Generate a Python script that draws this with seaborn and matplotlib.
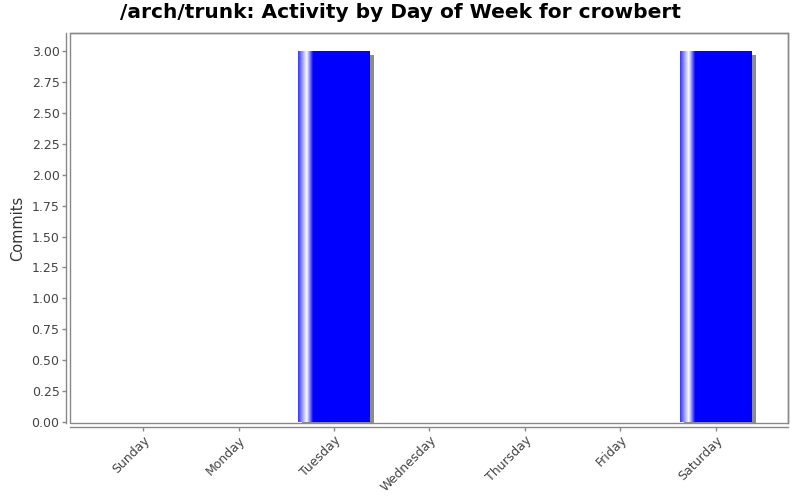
import matplotlib
matplotlib.use("Agg")
import matplotlib.pyplot as plt
import matplotlib.transforms as mtransforms
from matplotlib.patches import Rectangle
import numpy as np
import pandas as pd
import seaborn as sns

days = ["Sunday", "Monday", "Tuesday", "Wednesday", "Thursday", "Friday", "Saturday"]
commits = [0, 0, 3, 0, 0, 0, 3]
yticks = [0.00, 0.25, 0.50, 0.75, 1.00, 1.25, 1.50, 1.75, 2.00, 2.25, 2.50, 2.75, 3.00]
title = "/arch/trunk: Activity by Day of Week for crowbert"

sns.set_theme(style="white")
plt.rcParams["font.family"] = ["DejaVu Sans"]

df = pd.DataFrame({"day": days, "commits": commits})

fig = plt.figure(figsize=(8, 5), dpi=100)
ax = fig.add_axes([70 / 800, 1 - 423 / 500, 718 / 800, 390 / 500])

sns.barplot(data=df, x="day", y="commits", order=days, color="#0000ff",
            width=0.75, saturation=1, ax=ax, zorder=3, linewidth=0, edgecolor="none")

# gradient + shadow for each bar
base = np.array([0.0, 0.0, 1.0])
white = np.array([1.0, 1.0, 1.0])
n = 300
t = np.linspace(0, 1, n)
cols = np.zeros((n, 3))
for i, v in enumerate(t):
    if v < 0.12:
        f = 0.2 + 0.8 * (v / 0.12)
    elif v < 0.21:
        f = 1.0 - (v - 0.12) / 0.09
    else:
        f = 0.0
    cols[i] = base + (white - base) * f
grad = cols[np.newaxis, :, :]

shadow_tr = mtransforms.offset_copy(ax.transData, fig=fig, x=4, y=-4, units="dots")
for p in list(ax.patches):
    h = p.get_height()
    if h <= 0:
        continue
    x0, w = p.get_x(), p.get_width()
    sh = Rectangle((x0, 0.0), w, h, transform=shadow_tr, facecolor="#8c8c8c",
                   edgecolor="none", zorder=2, clip_on=True)
    ax.add_patch(sh)
    im = ax.imshow(grad, extent=[x0, x0 + w, 0, h], aspect="auto", zorder=4,
                   interpolation="bilinear")
    im.set_clip_path(p)

ax.set_xlim(-0.765, 6.755)
ax.set_ylim(-0.008, 3.146)

ax.set_yticks(yticks)
ax.set_yticklabels([f"{v:.2f}" for v in yticks])
ax.set_xlabel("")
ax.set_ylabel("Commits", fontsize=10.5, color="#333333", labelpad=5)
fig.suptitle(title, x=0.5, y=0.993, fontsize=14.5, fontweight="bold", color="#000000",
             va="top")

gray = "#888888"
for s in ["left", "bottom"]:
    ax.spines[s].set_position(("outward", 3))
for s in ax.spines.values():
    s.set_color(gray)
    s.set_linewidth(1)
    s.set_visible(True)
frame = Rectangle((0, 0), 1, 1, transform=ax.transAxes, fill=False,
                  edgecolor=gray, linewidth=1, zorder=5, clip_on=False)
ax.add_patch(frame)

ax.tick_params(axis="both", which="both", direction="out", length=3, width=1,
               color=gray, labelsize=9, labelcolor="#444444", left=True, bottom=True,
               pad=1.5)
plt.setp(ax.get_xticklabels(), rotation=45, ha="right", rotation_mode="anchor")

fig.savefig("out.png", dpi=100)
